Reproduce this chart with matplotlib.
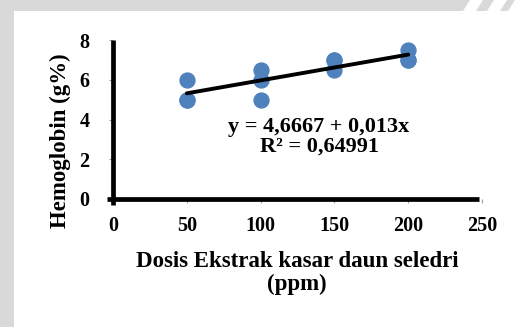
import matplotlib
matplotlib.use("Agg")
import matplotlib.pyplot as plt
from matplotlib.lines import Line2D
from matplotlib.patches import Rectangle, Polygon
import numpy as np

# Data
dose = [50, 50, 50, 100, 100, 100, 150, 150, 150, 200, 200, 200]
hb = [6, 5, 5, 6.5, 6, 5, 7, 6.5, 7, 7.5, 7, 7]
intercept = 4.6667
slope = 0.013
xticks = [0, 50, 100, 150, 200, 250]
yticks = [0, 2, 4, 6, 8]
eq_text = "y = 4,6667 + 0,013x\nR² = 0,64991"
xlabel = "Dosis Ekstrak kasar daun seledri\n(ppm)"
ylabel = "Hemoglobin (g%)"

plt.rcParams['font.family'] = ['Liberation Serif', 'DejaVu Serif']
plt.rcParams['font.weight'] = 'bold'

W, H = 532, 327
fig = plt.figure(figsize=(W/100, H/100), dpi=100, facecolor='#d9d9d9')
bg = Rectangle((14/W, 0), 1, 1 - 11/H, transform=fig.transFigure,
               facecolor='white', edgecolor='none', zorder=-5)
fig.add_artist(bg)
# decorative slanted stripes at the top right of the page background
for x0, x1 in [(463, 476), (487, 500), (508, 532)]:
    poly = Polygon([(x0/W, 1 - 11/H), (x1/W, 1 - 11/H), ((x1 + 7)/W, 1.0), ((x0 + 7)/W, 1.0)],
                   closed=True, transform=fig.transFigure, facecolor='white',
                   edgecolor='none', zorder=-4)
    fig.add_artist(poly)

ax = fig.add_axes([113/W, (H-199)/H, 369/W, 159/H])
ax.set_zorder(2)
ax.set_facecolor('none')
ax.set_xlim(0, 250)
ax.set_ylim(0, 8)
for s in ax.spines.values():
    s.set_visible(False)

# thick axis lines
ax.add_line(Line2D([-6/369, 366/369], [0, 0], transform=ax.transAxes,
                   color='black', lw=3.4, clip_on=False, solid_capstyle='butt'))
ax.add_line(Line2D([0, 0], [-6/159, 1], transform=ax.transAxes,
                   color='black', lw=3.4, clip_on=False, solid_capstyle='butt'))

ax.scatter(dose, hb, s=115, color='#4f81bd', zorder=3, clip_on=False)
xs = np.array([min(dose), max(dose)])
ax.plot(xs, intercept + slope*xs, color='black', lw=2.8, zorder=4, solid_capstyle='round')

ax.set_xticks(xticks)
ax.set_yticks(yticks)
ax.tick_params(axis='both', direction='out', length=3, width=0.8, color='#a0a0a0',
               labelsize=14.5)
ax.tick_params(axis='x', pad=9)
ax.tick_params(axis='y', pad=14)
for lab in ax.get_xticklabels() + ax.get_yticklabels():
    lab.set_fontweight('bold')

fig.text(319/W, 1 - 137/H, eq_text, ha='center', va='center', fontsize=16,
         fontweight='bold', linespacing=1.0)
fig.text(297/W, 1 - 273/H, xlabel, ha='center', va='center', fontsize=16.5,
         fontweight='bold', linespacing=1.1)
fig.text(60/W, 1 - 141/H, ylabel, ha='center', va='center', rotation=90,
         fontsize=16.5, fontweight='bold')

fig.savefig('out.png', dpi=100, facecolor=fig.get_facecolor())
